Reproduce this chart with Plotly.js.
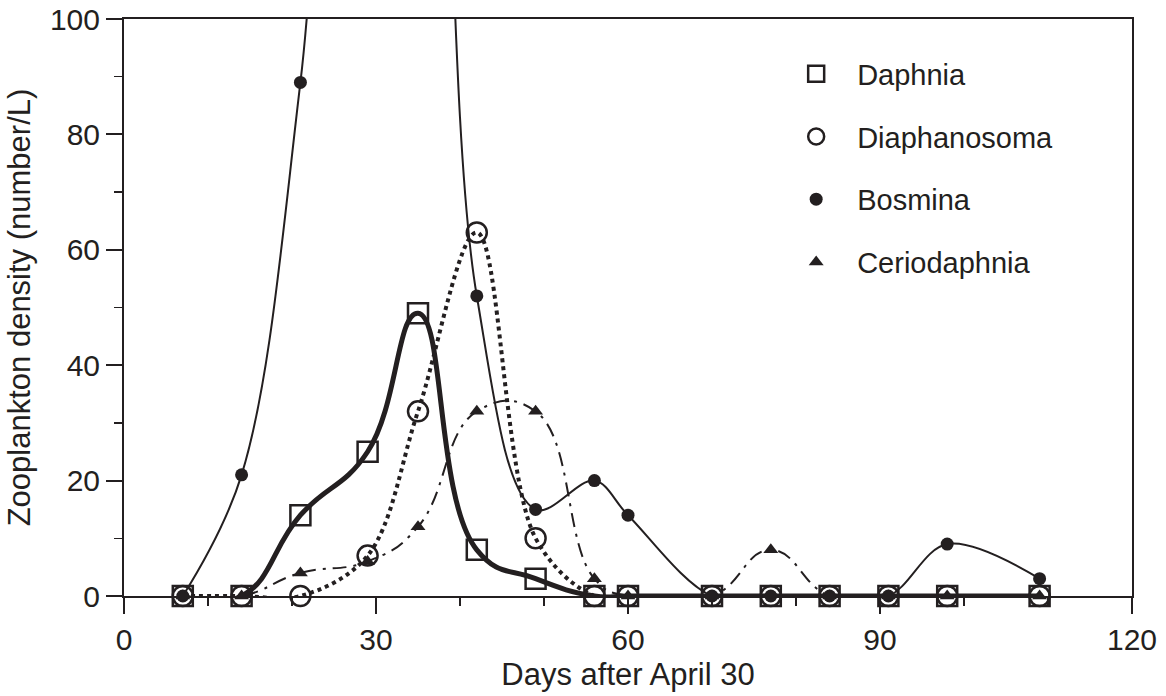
<!DOCTYPE html>
<html>
<head>
<meta charset="utf-8">
<script src="https://cdn.plot.ly/plotly-3.0.1.min.js"></script>
<style>
  html, body { margin: 0; padding: 0; background: #ffffff; }
  #chart { width: 1166px; height: 696px; }
</style>
</head>
<body>
<div id="chart"></div>
<script>
// ---- data ----
const days = [7, 14, 21, 29, 35, 42, 49, 56, 60, 70, 77, 84, 91, 98, 109];
const daphnia      = [0, 0, 14, 25, 49, 8, 3, 0, 0, 0, 0, 0, 0, 0, 0];
const diaphanosoma = [0, 0, 0, 7, 32, 63, 10, 0, 0, 0, 0, 0, 0, 0, 0];
const bosmina      = [0, 21, 89, 220, 200, 52, 15, 20, 14, 0, 0, 0, 0, 9, 3];
const ceriodaphnia = [0, 0, 4, 6, 12, 32, 32, 3, 0, 0, 8, 0, 0, 0, 0];
const seriesNames = ["Daphnia", "Diaphanosoma", "Bosmina", "Ceriodaphnia"];
const xTicks = [0, 30, 60, 90, 120];
const yTicks = [0, 20, 40, 60, 80, 100];

const INK = "#231f20";
const FONT = "Liberation Sans, Arial, sans-serif";

function lineTrace(y, width, dash, smoothing) {
  return {
    x: days, y: y, type: "scatter", mode: "lines",
    line: { shape: "spline", smoothing: smoothing, color: INK, width: width, dash: dash },
    showlegend: false, hoverinfo: "skip"
  };
}
function markerTrace(name, y, symbol, size, lw, group) {
  return {
    x: days, y: y, type: "scatter", mode: "markers", name: name,
    legendgroup: group,
    marker: { symbol: symbol, size: size, color: INK, line: { color: INK, width: lw } },
    cliponaxis: false
  };
}

const data = [
  lineTrace(bosmina, 2, "solid", 1),
  lineTrace(ceriodaphnia, 2, "14px,7px,3px,7px", 1.3),
  lineTrace(diaphanosoma, 4, "dot", 1),
  lineTrace(daphnia, 5, "solid", 1.3),
  markerTrace(seriesNames[0], daphnia, "square-open", 20, 2.5, "a"),
  markerTrace(seriesNames[1], diaphanosoma, "circle-open", 20, 2.5, "b"),
  markerTrace(seriesNames[2], bosmina, "circle", 13, 0, "c"),
  markerTrace(seriesNames[3], ceriodaphnia, "triangle-up", 13, 0, "d")
];

const axisCommon = {
  showgrid: false, zeroline: false, showline: true, mirror: true,
  linecolor: INK, linewidth: 2,
  ticks: "outside", ticklen: 16, tickwidth: 2, tickcolor: INK,
  tickfont: { family: FONT, size: 30, color: INK },
  minor: { ticks: "outside", ticklen: 8, tickwidth: 1.5, tickcolor: INK, dtick: 10, showgrid: false }
};

const layout = {
  width: 1166, height: 696,
  margin: { l: 124, r: 34, t: 19, b: 100 },
  paper_bgcolor: "#ffffff", plot_bgcolor: "#ffffff",
  font: { family: FONT, color: INK },
  xaxis: Object.assign({}, axisCommon, {
    range: [0, 120], tickmode: "array", tickvals: xTicks, ticktext: xTicks.map(String),
    title: { text: "Days after April 30", font: { family: FONT, size: 31, color: INK }, standoff: 8 }
  }),
  yaxis: Object.assign({}, axisCommon, {
    range: [0, 100], tickmode: "array", tickvals: yTicks, ticktext: yTicks.map(String),
    title: { text: "Zooplankton density (number/L)", font: { family: FONT, size: 31, color: INK }, standoff: 10 }
  }),
  legend: {
    x: 0.646, y: 0.949, xanchor: "left", yanchor: "top",
    font: { family: FONT, size: 29, color: INK },
    bgcolor: "rgba(0,0,0,0)", borderwidth: 0,
    traceorder: "grouped", tracegroupgap: 22, itemwidth: 72
  },
  showlegend: true
};

Plotly.newPlot("chart", data, layout, { staticPlot: true, displayModeBar: false });
</script>
</body>
</html>
